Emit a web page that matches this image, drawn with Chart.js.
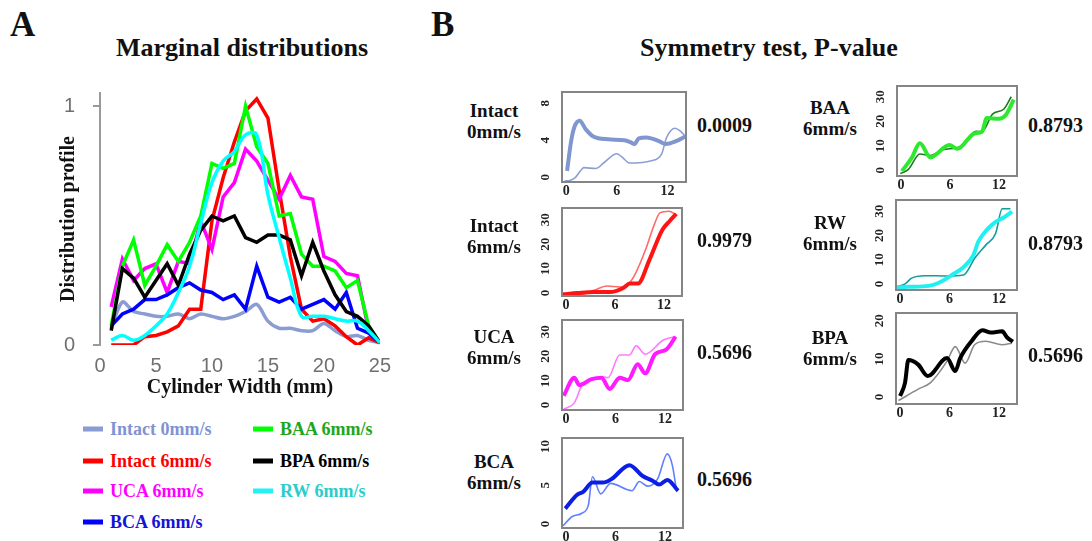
<!DOCTYPE html>
<html>
<head>
<meta charset="utf-8">
<script src="https://cdn.jsdelivr.net/npm/chart.js@4.4.1/dist/chart.umd.min.js"></script>
<style>
  body { margin: 0; background: #fff; }
  #page { position: relative; width: 1092px; height: 541px; overflow: hidden;
          font-family: 'Liberation Serif', 'Times New Roman', serif; font-weight: bold; color: #111; }
  .abs { position: absolute; white-space: nowrap; }
  canvas { position: absolute; }
  .panel-letter { font-size: 35px; }
  .title { font-size: 26px; transform: translateX(-50%); }
  .group-name { font-size: 19px; line-height: 21px; text-align: center; transform: translate(-50%, -50%); }
  .p-value { font-size: 20px; transform: translateY(-50%); }
  .legend-item { position: absolute; display: flex; align-items: center; font-size: 18px;
                 white-space: nowrap; transform: translateY(-50%); }
  .legend-item .swatch { width: 20px; height: 5px; margin-right: 7px; }
</style>
</head>
<body>
<div id="page">
  <div class="abs panel-letter" style="left:10px;top:5px">A</div>
  <div class="abs panel-letter" style="left:431px;top:5px">B</div>
  <div class="abs title" style="left:242px;top:33px">Marginal distributions</div>
  <div class="abs title" style="left:769px;top:33px">Symmetry test, P-value</div>
  <!-- tick padding reserves 30px above the plot and 20px to its right -->
  <canvas id="marginalChart" width="360" height="337" style="left:40px;top:63px"></canvas>
</div>
<script>
// ---- Marginal distributions (panel A) ----
const widthMm = [1, 2, 3, 4, 5, 6, 7, 8, 9, 10, 11, 12, 13, 14, 15, 16, 17, 18, 19, 20, 21, 22, 23, 24, 25];
const intact0mm = [0.07, 0.18, 0.14, 0.13, 0.12, 0.12, 0.13, 0.11, 0.13, 0.12, 0.11, 0.12, 0.14, 0.17, 0.10, 0.07, 0.07, 0.06, 0.06, 0.09, 0.06, 0.035, 0.04, 0.02, 0.01];
const intact6mm = [0, 0, 0, 0.035, 0.04, 0.055, 0.08, 0.15, 0.15, 0.52, 0.70, 0.85, 0.98, 1.03, 0.95, 0.65, 0.37, 0.15, 0.10, 0.11, 0.08, 0.035, 0, 0.03, 0.01];
const uca6mm = [0.16, 0.36, 0.27, 0.32, 0.34, 0.22, 0.35, 0.34, 0.52, 0.40, 0.62, 0.68, 0.82, 0.77, 0.69, 0.61, 0.71, 0.62, 0.61, 0.37, 0.35, 0.30, 0.29, 0.06, 0.01];
const bca6mm = [0.08, 0.13, 0.15, 0.19, 0.19, 0.21, 0.24, 0.26, 0.23, 0.22, 0.19, 0.21, 0.15, 0.33, 0.20, 0.18, 0.20, 0.15, 0.17, 0.19, 0.15, 0.22, 0.07, 0.05, 0.01];
const baa6mm = [0.08, 0.33, 0.44, 0.25, 0.33, 0.42, 0.35, 0.43, 0.54, 0.76, 0.74, 0.76, 1.0, 0.83, 0.76, 0.54, 0.55, 0.38, 0.33, 0.33, 0.31, 0.24, 0.27, 0.08, 0.01];
const bpa6mm = [0.06, 0.32, 0.28, 0.20, 0.27, 0.34, 0.25, 0.38, 0.48, 0.54, 0.52, 0.54, 0.45, 0.43, 0.46, 0.46, 0.44, 0.29, 0.43, 0.31, 0.21, 0.14, 0.12, 0.08, 0.01];
const rw6mm = [0.02, 0.04, 0.02, 0.04, 0.08, 0.13, 0.22, 0.33, 0.51, 0.68, 0.77, 0.81, 0.88, 0.88, 0.63, 0.45, 0.28, 0.12, 0.12, 0.12, 0.11, 0.10, 0.10, 0.06, 0.01];
const marginalYTicks = [0, 1];
const marginalXTicks = [0, 5, 10, 15, 20, 25];

// ---- Symmetry test curves (panel B), [x, y] pairs ----
const intact0Thick = [[0.1, 0.7], [0.6, 4.0], [1.0, 5.5], [1.6, 6.1], [2.3, 5.2], [3.2, 4.4], [5.0, 4.1], [6.9, 4.0], [7.6, 3.8], [8.1, 3.6], [8.6, 4.2], [9.5, 4.3], [11.0, 3.9], [11.8, 3.6], [13.0, 3.9], [14.1, 4.4]];
const intact0Thin = [[-0.2, -0.4], [0.5, -0.3], [1.1, 0], [1.6, 0.6], [2.1, 1.05], [3.5, 0.95], [4.5, 1.6], [6.0, 2.55], [6.6, 2.2], [7.5, 1.55], [10.1, 1.8], [11.3, 2.5], [11.9, 4.3], [12.9, 5.3], [13.5, 5.0], [14.3, 4.25]];
const intact6Thick = [[-0.4, -0.5], [1.4, 0], [3.4, 0.4], [5.4, 0.4], [7.0, 2.1], [7.8, 3.9], [8.8, 3.9], [10.2, 13.5], [11.8, 25.9], [12.7, 29.5], [13.5, 32.4]];
const intact6Thin = [[-0.6, -0.9], [0.6, 0], [1.8, -0.5], [3.4, 1.1], [5.0, 2.9], [6.6, 2.5], [7.8, 4.3], [8.6, 8.7], [9.8, 18.3], [10.8, 28], [11.5, 32.8], [12.6, 33.5], [13.5, 32]];
const ucaThick = [[-0.3, 3.8], [1.0, 11.2], [1.6, 8.2], [3.1, 10.6], [4.3, 11.2], [5.3, 6.6], [6.5, 11.2], [7.5, 10.2], [8.7, 16.7], [9.6, 13], [10.8, 20.8], [12.2, 22.8], [13.3, 28]];
const ucaThin = [[-0.3, -1.6], [1.0, 0.9], [2.0, 8.6], [3.3, 10.6], [4.5, 11.6], [5.1, 11.2], [6.5, 20.5], [7.7, 20.5], [8.5, 24.2], [9.6, 20.8], [11.8, 26.6], [13.3, 28]];
const bcaThick = [[-0.1, 2.0], [1.3, 3.75], [2.1, 4.2], [3.2, 5.35], [4.5, 5.35], [5.5, 5.8], [7.7, 7.6], [9.3, 6.2], [10.5, 5.6], [11.3, 5.1], [12.3, 5.7], [13.6, 4.3]];
const bcaThin = [[-0.4, -0.25], [0.7, 0.95], [1.9, 1.4], [2.7, 2.45], [3.2, 6.1], [4.2, 3.9], [5.4, 5.25], [8.0, 4.3], [8.9, 5.5], [9.9, 4.9], [11.1, 5.8], [12.3, 9.05], [12.9, 7.6], [13.4, 4.4]];
const baaThick = [[0.1, -0.4], [1.3, 5], [2.3, 11], [3.6, 5.2], [5.9, 10.3], [6.9, 8.7], [9.0, 15], [9.9, 15.7], [10.5, 21.3], [12.0, 21], [12.8, 22.4], [13.8, 28.8]];
const baaThin = [[-0.1, -1.4], [0.9, 0.3], [2.3, 6.6], [3.6, 6], [5.1, 8.3], [7.2, 9.6], [9.2, 15.9], [9.9, 15.7], [11.2, 22.9], [12.6, 25], [13.5, 30]];
const rwThick = [[-0.4, -1.4], [1.0, -1.2], [3.45, -0.8], [4.7, 0.5], [6.3, 3.7], [7.7, 6.9], [8.9, 11.9], [9.5, 17.4], [10.5, 22.2], [11.6, 25.6], [12.6, 27.4], [13.6, 29.8]];
const rwThin = [[-0.4, -1.2], [0.6, 0], [1.4, 2.4], [3.0, 3.4], [5.5, 3.3], [7.7, 3.7], [9.1, 10.8], [10.4, 16], [11.6, 20.8], [12.4, 31], [13.4, 31]];
const bpaThick = [[0, 0.3], [0.6, 3.8], [1.0, 9.7], [2.2, 8.5], [3.35, 5.5], [5.7, 10.2], [6.7, 6.8], [7.3, 10.2], [8.7, 14.7], [10.0, 17.5], [11.0, 16.9], [12.4, 17.2], [13.0, 15.6], [13.7, 14.5]];
const bpaThin = [[-0.2, -0.9], [2.2, 2.1], [3.7, 3.8], [5.7, 9.4], [6.7, 13.2], [7.9, 8.9], [9.05, 13.7], [10.4, 14.6], [12.4, 13.7], [13.6, 14.1]];

const symGroups = ['Intact 0mm/s', 'Intact 6mm/s', 'UCA 6mm/s', 'BCA 6mm/s', 'BAA 6mm/s', 'RW 6mm/s', 'BPA 6mm/s'];
const symPValues = ['0.0009', '0.9979', '0.5696', '0.5696', '0.8793', '0.8793', '0.5696'];
const symYTicks = [[0, 4, 8], [0, 10, 20, 30], [0, 10, 20, 30], [0, 5, 10], [0, 10, 20, 30], [0, 10, 20, 30], [0, 10, 20]];
const symXTicks = [0, 6, 12];

Chart.defaults.font.family = "'Liberation Serif', 'Times New Roman', serif";
Chart.defaults.animation = false;

const page = document.getElementById('page');

// Helpers
const toPoints = (xs, ys) => xs.map((x, i) => ({ x, y: ys[i] }));
const pairsToPoints = pairs => pairs.map(([x, y]) => ({ x, y }));
const fixedTicks = values => scale => { scale.ticks = values.map(v => ({ value: v })); };

function addText(cls, text, left, top) {
  const el = document.createElement('div');
  el.className = 'abs ' + cls;
  el.style.left = left + 'px';
  el.style.top = top + 'px';
  el.innerHTML = text;
  page.appendChild(el);
  return el;
}

// Panel A: line series
const marginalSeries = [
  { label: 'Intact 0mm/s', data: intact0mm, color: '#8a9cd2', text: '#7f93d3', tension: 0.3, order: 6 },
  { label: 'Intact 6mm/s', data: intact6mm, color: '#ff0000', text: '#ff0000', tension: 0, order: 5 },
  { label: 'UCA 6mm/s', data: uca6mm, color: '#ff00ff', text: '#ff00ff', tension: 0, order: 4 },
  { label: 'BCA 6mm/s', data: bca6mm, color: '#0000ff', text: '#1414d8', tension: 0, order: 3 },
  { label: 'BAA 6mm/s', data: baa6mm, color: '#00ff00', text: '#1ea51e', tension: 0, order: 2 },
  { label: 'BPA 6mm/s', data: bpa6mm, color: '#000000', text: '#000000', tension: 0, order: 1 },
  { label: 'RW 6mm/s', data: rw6mm, color: '#00ffff', text: '#2ccccc', tension: 0.4, order: 0 }
];

new Chart(document.getElementById('marginalChart'), {
  type: 'line',
  data: {
    datasets: marginalSeries.map(s => ({
      label: s.label,
      data: toPoints(widthMm, s.data),
      borderColor: s.color,
      borderWidth: 3.5,
      pointRadius: 0,
      tension: s.tension,
      order: s.order
    }))
  },
  options: {
    responsive: false,
    devicePixelRatio: 1,
    layout: { padding: 0 },
    plugins: { legend: { display: false }, tooltip: { enabled: false } },
    scales: {
      x: {
        type: 'linear',
        min: 0,
        max: 25,
        afterBuildTicks: fixedTicks(marginalXTicks),
        afterFit: scale => { scale.height = 55; },
        grid: { display: false, drawTicks: false },
        border: { display: false },
        ticks: { color: '#707070', padding: 9, font: { family: "'Liberation Sans', Arial, sans-serif", size: 20 } },
        title: {
          display: true,
          text: 'Cylinder Width (mm)',
          color: '#111',
          padding: { top: 0, bottom: 0 },
          font: { size: 20, weight: 'bold' }
        }
      },
      y: {
        min: 0,
        max: 1.055,
        afterBuildTicks: fixedTicks(marginalYTicks),
        afterFit: scale => { scale.width = 60; },
        grid: { drawOnChartArea: false, drawTicks: true, tickLength: 7, color: '#9a9a9a', lineWidth: 2 },
        border: { color: '#9a9a9a', width: 2 },
        ticks: { color: '#707070', padding: 18, font: { family: "'Liberation Sans', Arial, sans-serif", size: 20 } },
        title: {
          display: true,
          text: 'Distribution profile',
          color: '#111',
          padding: { top: 17, bottom: 0 },
          font: { size: 20, weight: 'bold' }
        }
      }
    }
  }
});

// Panel A legend, two columns
const legendColumns = [
  ['Intact 0mm/s', 'Intact 6mm/s', 'UCA 6mm/s', 'BCA 6mm/s'],
  ['BAA 6mm/s', 'BPA 6mm/s', 'RW 6mm/s']
];
const legendColX = [83, 253];
const legendRowY = [429, 461, 491, 522];

legendColumns.forEach((col, c) => {
  col.forEach((label, r) => {
    const s = marginalSeries.find(m => m.label === label);
    const item = document.createElement('div');
    item.className = 'legend-item';
    item.style.left = legendColX[c] + 'px';
    item.style.top = legendRowY[r] + 'px';
    item.style.color = s.text;
    item.innerHTML = `<span class="swatch" style="background:${s.color === '#00ffff' ? '#22f2f2' : s.color}"></span>${label}`;
    page.appendChild(item);
  });
});

// Panel B: frame around each small plot plus rotated y tick labels
const panelFrame = {
  id: 'panelFrame',
  afterDatasetsDraw(chart) {
    const { ctx, chartArea: a } = chart;
    ctx.save();
    ctx.strokeStyle = '#858585';
    ctx.lineWidth = 2;
    ctx.strokeRect(a.left, a.top, a.right - a.left, a.bottom - a.top);
    ctx.restore();
  },
  afterDraw(chart) {
    const { ctx, chartArea: a } = chart;
    const yScale = chart.scales.y;
    ctx.save();
    ctx.font = "bold 13px 'Liberation Serif'";
    ctx.fillStyle = '#222';
    ctx.textAlign = 'center';
    ctx.textBaseline = 'middle';
    yScale.ticks.forEach(t => {
      ctx.save();
      ctx.translate(a.left - 16, yScale.getPixelForValue(t.value));
      ctx.rotate(-Math.PI / 2);
      ctx.fillText(String(t.value), 0, 0);
      ctx.restore();
    });
    ctx.restore();
  }
};

const symCurves = [
  [intact0Thick, intact0Thin], [intact6Thick, intact6Thin], [ucaThick, ucaThin], [bcaThick, bcaThin],
  [baaThick, baaThin], [rwThick, rwThin], [bpaThick, bpaThin]
];
const symColors = [
  ['#7f96cf', '#8a9fd4'], ['#ff1414', '#ff6a6a'], ['#ff1aff', '#ff7aff'], ['#0a1ee6', '#6080ff'],
  ['#2ee82e', '#1c7a1c'], ['#22f0f0', '#119c9c'], ['#000000', '#8a8a8a']
];
// frame box (left, top, width, height), y range, label and value anchors
const symLayout = [
  { box: [562, 92, 124, 90], y: [-0.5, 9.2], name: [494, 121], p: [697, 125] },
  { box: [562, 208, 120, 88], y: [-1.2, 34.8], name: [494, 236], p: [697, 240] },
  { box: [562, 320, 121, 90], y: [-2, 34.8], name: [494, 347], p: [697, 352] },
  { box: [562, 438, 121, 90], y: [-0.5, 11.1], name: [494, 472], p: [697, 479] },
  { box: [897, 86, 120, 90], y: [-2.4, 34.4], name: [830, 118], p: [1028, 125] },
  { box: [896, 200, 121, 90], y: [-2.5, 34.6], name: [830, 233], p: [1028, 243] },
  { box: [896, 313, 121, 91], y: [-1.8, 22], name: [830, 348], p: [1028, 355] }
];

function createSymmetryChart(i) {
  const L = symLayout[i];
  const [bx, by, bw, bh] = L.box;
  const canvas = document.createElement('canvas');
  canvas.width = bw + 40;
  canvas.height = bh + 28;
  canvas.style.left = (bx - 32) + 'px';
  canvas.style.top = (by - 6) + 'px';
  page.appendChild(canvas);

  const [thick, thin] = symCurves[i];
  const [thickColor, thinColor] = symColors[i];
  const curve = { pointRadius: 0, cubicInterpolationMode: 'monotone' };

  new Chart(canvas, {
    type: 'line',
    data: {
      datasets: [
        { ...curve, data: pairsToPoints(thick), borderColor: thickColor, borderWidth: 4 },
        { ...curve, data: pairsToPoints(thin), borderColor: thinColor, borderWidth: 1.6 }
      ]
    },
    options: {
      responsive: false,
      devicePixelRatio: 1,
      layout: { padding: { top: 6, right: 8, left: 0, bottom: 0 } },
      plugins: { legend: { display: false }, tooltip: { enabled: false } },
      scales: {
        x: {
          type: 'linear',
          min: -0.5,
          max: 14.2,
          afterBuildTicks: fixedTicks(symXTicks),
          afterFit: scale => { scale.height = 22; },
          grid: { display: false, drawTicks: false },
          border: { display: false },
          ticks: { color: '#222', padding: 1, font: { size: 14, weight: 'bold' } }
        },
        y: {
          min: L.y[0],
          max: L.y[1],
          afterBuildTicks: fixedTicks(symYTicks[i]),
          afterFit: scale => { scale.width = 32; },
          grid: { display: false, drawTicks: false },
          border: { display: false },
          ticks: { display: false }
        }
      }
    },
    plugins: [panelFrame]
  });

  const [group, speed] = symGroups[i].split(' ');
  addText('group-name', `${group}<br>${speed}`, L.name[0], L.name[1]);
  addText('p-value', symPValues[i], L.p[0], L.p[1]);
}

symGroups.forEach((_, i) => createSymmetryChart(i));
</script>
</body>
</html>
